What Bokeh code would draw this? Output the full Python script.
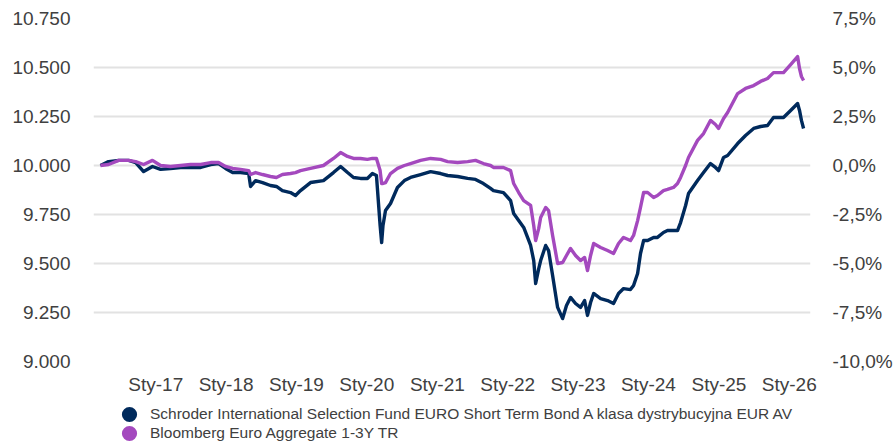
import pandas as pd
from bokeh.plotting import figure
from bokeh.layouts import column
from bokeh.models import Range1d, LinearAxis, FixedTicker, Legend, LegendItem
from bokeh.embed import file_html
from bokeh.resources import INLINE

# ---------------- data ----------------
dates = [
    "2016-03-20", "2016-05-01", "2016-06-23", "2016-08-13", "2016-09-19", "2016-10-30", "2016-12-15",
    "2017-01-26", "2017-03-18", "2017-05-10", "2017-07-01", "2017-08-22", "2017-10-13", "2017-11-23", "2017-12-29",
    "2018-02-04", "2018-03-17", "2018-04-28", "2018-05-08", "2018-06-03", "2018-07-09", "2018-08-19", "2018-09-19",
    "2018-10-20", "2018-12-01", "2018-12-27",
    "2019-01-22", "2019-03-15", "2019-05-21", "2019-07-12", "2019-08-18", "2019-09-23", "2019-10-24", "2019-11-29",
    "2020-01-04", "2020-01-30", "2020-02-20", "2020-03-10", "2020-03-18", "2020-03-25", "2020-04-07", "2020-05-03",
    "2020-06-08", "2020-07-14", "2020-08-15", "2020-10-06", "2020-11-27",
    "2021-01-18", "2021-02-23", "2021-04-16", "2021-06-07", "2021-07-18", "2021-08-28", "2021-10-04", "2021-10-19",
    "2021-12-10",
    "2022-01-16", "2022-02-01", "2022-02-27", "2022-03-25", "2022-04-30", "2022-05-16", "2022-05-26", "2022-06-11",
    "2022-06-21", "2022-07-17", "2022-08-01", "2022-08-22", "2022-09-17", "2022-10-13", "2022-11-02", "2022-11-23",
    "2022-12-19",
    "2023-01-14", "2023-02-04", "2023-02-19", "2023-03-07", "2023-03-23", "2023-04-28", "2023-06-03", "2023-07-04",
    "2023-07-30", "2023-08-25", "2023-09-30", "2023-10-16", "2023-11-06", "2023-11-21", "2023-12-07", "2023-12-28",
    "2024-01-28", "2024-02-17", "2024-03-19", "2024-04-09", "2024-05-10", "2024-05-31", "2024-06-16", "2024-07-12",
    "2024-07-27", "2024-09-12", "2024-10-13", "2024-11-18", "2024-12-14", "2024-12-30",
    "2025-01-25", "2025-02-15", "2025-04-08", "2025-05-19", "2025-06-30", "2025-08-05", "2025-09-10", "2025-10-11",
    "2025-12-02",
    "2026-01-08", "2026-02-13", "2026-02-23", "2026-03-05", "2026-03-16",
]

fund = [
    10.000, 10.020, 10.026, 10.026, 10.015, 9.969, 9.995,
    9.980, 9.985, 9.990, 9.990, 9.990, 10.005, 10.010, 9.985,
    9.964, 9.964, 9.959, 9.893, 9.923, 9.913, 9.898, 9.893, 9.872, 9.862, 9.847,
    9.872, 9.913, 9.923, 9.964, 9.995, 9.964, 9.939, 9.934,
    9.934, 9.959, 9.949, 9.694, 9.607, 9.694, 9.770, 9.806, 9.888, 9.923, 9.939, 9.954, 9.969,
    9.959, 9.949, 9.944, 9.934, 9.929, 9.908, 9.883, 9.872, 9.862,
    9.821, 9.755, 9.719, 9.684, 9.592, 9.515, 9.398, 9.474, 9.515, 9.592, 9.566, 9.439, 9.276, 9.219, 9.286,
    9.327, 9.296,
    9.276, 9.311, 9.235, 9.301, 9.347, 9.321, 9.311, 9.296, 9.347, 9.372, 9.367, 9.388, 9.449, 9.551, 9.617, 9.617,
    9.633, 9.633, 9.658, 9.668, 9.668, 9.668, 9.709, 9.796, 9.857, 9.923, 9.964, 10.010, 9.990, 9.974,
    10.041, 10.051, 10.112, 10.153, 10.189, 10.199, 10.204, 10.245, 10.245,
    10.281, 10.316, 10.281, 10.230, 10.189,
]

benchmark = [
    10.000, 10.005, 10.026, 10.026, 10.020, 10.005, 10.026,
    10.000, 9.995, 10.000, 10.005, 10.005, 10.015, 10.015, 9.995,
    9.985, 9.980, 9.974, 9.954, 9.964, 9.954, 9.944, 9.939, 9.954, 9.959, 9.964,
    9.974, 9.985, 10.000, 10.036, 10.066, 10.046, 10.036, 10.036,
    10.031, 10.036, 10.036, 9.974, 9.908, 9.908, 9.913, 9.959, 9.985, 10.000, 10.010, 10.026, 10.036,
    10.031, 10.020, 10.015, 10.020, 10.026, 10.010, 10.000, 9.990, 9.990,
    9.974, 9.908, 9.862, 9.821, 9.796, 9.694, 9.617, 9.679, 9.735, 9.786, 9.770, 9.643, 9.500, 9.505, 9.541,
    9.577, 9.541,
    9.515, 9.531, 9.464, 9.541, 9.602, 9.582, 9.566, 9.551, 9.602, 9.633, 9.617, 9.643, 9.719, 9.786, 9.862, 9.862,
    9.837, 9.847, 9.872, 9.878, 9.888, 9.908, 9.939, 10.000, 10.041, 10.128, 10.163, 10.230, 10.209, 10.189,
    10.240, 10.270, 10.367, 10.393, 10.408, 10.429, 10.444, 10.474, 10.474,
    10.515, 10.556, 10.495, 10.454, 10.434,
]

series_names = [
    "Schroder International Selection Fund EURO Short Term Bond A klasa dystrybucyjna EUR AV",
    "Bloomberg Euro Aggregate 1-3Y TR",
]

x_years = [2017, 2018, 2019, 2020, 2021, 2022, 2023, 2024, 2025, 2026]
x_labels = ["Sty-17", "Sty-18", "Sty-19", "Sty-20", "Sty-21", "Sty-22", "Sty-23", "Sty-24", "Sty-25", "Sty-26"]

left_ticks = [9.0, 9.25, 9.5, 9.75, 10.0, 10.25, 10.5, 10.75]
left_labels = ["9.000", "9.250", "9.500", "9.750", "10.000", "10.250", "10.500", "10.750"]

right_ticks = [-10.0, -7.5, -5.0, -2.5, 0.0, 2.5, 5.0, 7.5]
right_labels = ["-10,0%", "-7,5%", "-5,0%", "-2,5%", "0,0%", "2,5%", "5,0%", "7,5%"]

# ---------------- style ----------------
NAVY = "#002a5c"
PURPLE = "#a449be"
TEXT = "#404040"
GRID = "#e2e2e2"
FONT = "Liberation Sans"

x = pd.to_datetime(dates)
x_start = pd.Timestamp("2016-02-13")
x_end = pd.Timestamp("2026-04-21")

p = figure(
    width=895, height=400,
    x_axis_type="datetime",
    x_range=Range1d(x_start, x_end),
    y_range=Range1d(9.0, 10.75),
    output_backend="svg",
    toolbar_location=None,
    min_border_left=93, min_border_right=85, min_border_top=18, min_border_bottom=39,
)
p.outline_line_color = None
p.background_fill_color = "white"
p.border_fill_color = "white"

p.extra_y_ranges = {"pct": Range1d(-10.0, 7.5)}

# grid
p.xgrid.visible = False
p.ygrid.ticker = FixedTicker(ticks=left_ticks)
p.ygrid.grid_line_color = GRID
p.ygrid.grid_line_width = 2

def style_axis(ax, standoff):
    ax.axis_line_color = None
    ax.major_tick_line_color = None
    ax.minor_tick_line_color = None
    ax.major_tick_in = 0
    ax.major_tick_out = 0
    ax.minor_tick_in = 0
    ax.minor_tick_out = 0
    ax.major_label_standoff = standoff
    ax.major_label_text_font = FONT
    ax.major_label_text_font_size = "19px"
    ax.major_label_text_color = TEXT

# x axis
x_tick_vals = [pd.Timestamp(f"{yr}-01-01").value / 1e6 for yr in x_years]
xa = p.xaxis[0]
xa.ticker = FixedTicker(ticks=x_tick_vals)
xa.major_label_overrides = dict(zip(x_tick_vals, x_labels))
style_axis(xa, 12)

# left axis
ya = p.yaxis[0]
ya.ticker = FixedTicker(ticks=left_ticks)
ya.major_label_overrides = dict(zip(left_ticks, left_labels))
style_axis(ya, 23)

# right axis
ra = LinearAxis(y_range_name="pct", ticker=FixedTicker(ticks=right_ticks))
ra.major_label_overrides = dict(zip(right_ticks, right_labels))
style_axis(ra, 22)
p.add_layout(ra, "right")

# lines
p.line(x, fund, line_color=NAVY, line_width=3.4, line_join="round")
p.line(x, benchmark, line_color=PURPLE, line_width=3.4, line_join="round")

# legend strip (separate figure below the chart; its frame is aligned with the chart's frame)
lf = figure(
    width=895, height=42,
    x_range=Range1d(0, 1), y_range=Range1d(0, 1),
    output_backend="svg", toolbar_location=None,
    x_axis_location=None, y_axis_location=None,
    min_border=0, min_border_left=0, min_border_right=0, min_border_top=0, min_border_bottom=0,
)
lf.outline_line_color = None
lf.grid.visible = False
lf.background_fill_color = "white"
lf.border_fill_color = "white"

nan1 = [float("nan")]
r1 = lf.scatter(x=nan1, y=nan1, marker="circle", fill_color=NAVY, line_color=None)
r2 = lf.scatter(x=nan1, y=nan1, marker="circle", fill_color=PURPLE, line_color=None)

def make_legend(name, renderer, loc):
    return Legend(
        items=[LegendItem(label=name, renderers=[renderer])],
        location=loc,
        orientation="vertical",
        glyph_width=38, glyph_height=38,
        label_height=20,
        spacing=0,
        padding=0, margin=0,
        label_standoff=2,
        label_text_font=FONT,
        label_text_font_size="15.5px",
        label_text_color=TEXT,
        border_line_color=None,
        background_fill_alpha=0,
    )

lf.add_layout(make_legend(series_names[0], r1, (17, 9)), "center")
lf.add_layout(make_legend(series_names[1], r2, (17, -10)), "center")

layout = column(p, lf, spacing=0)
open("out.html", "w").write(file_html(layout, INLINE))
